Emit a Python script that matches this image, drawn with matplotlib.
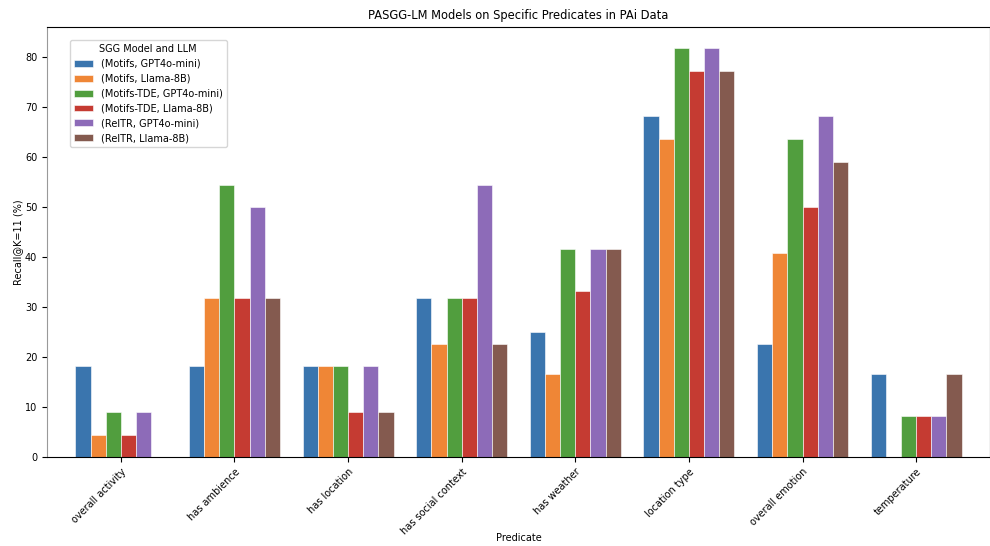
import numpy as np
import matplotlib.pyplot as plt

predicates = ['overall activity', 'has ambience', 'has location', 'has social context',
              'has weather', 'location type', 'overall emotion', 'temperature']

motifs_gpt = [18.2, 18.2, 18.2, 31.8, 25.0, 68.2, 22.7, 16.7]
motifs_llama = [4.5, 31.8, 18.2, 22.7, 16.7, 63.6, 40.9, 0.0]
tde_gpt = [9.1, 54.5, 18.2, 31.8, 41.7, 81.8, 63.6, 8.3]
tde_llama = [4.5, 31.8, 9.1, 31.8, 33.3, 77.3, 50.0, 8.3]
reltr_gpt = [9.1, 50.0, 18.2, 54.5, 41.7, 81.8, 68.2, 8.3]
reltr_llama = [0.0, 31.8, 9.1, 22.7, 41.7, 77.3, 59.1, 16.7]

series = [motifs_gpt, motifs_llama, tde_gpt, tde_llama, reltr_gpt, reltr_llama]
labels = ['(Motifs, GPT4o-mini)', '(Motifs, Llama-8B)', '(Motifs-TDE, GPT4o-mini)',
          '(Motifs-TDE, Llama-8B)', '(RelTR, GPT4o-mini)', '(RelTR, Llama-8B)']
cols = ['#3a75ae', '#ef8636', '#519e3e', '#c53b32', '#8d6bb8', '#845a4f']

fs = 7
fig = plt.figure(figsize=(9.9, 5.46), dpi=100)
ax = fig.add_axes([47/990, 1-457/546, 943/990, 430/546])

x = np.arange(len(predicates))
w = 0.8/len(series)
for i, (vals, lab, c) in enumerate(zip(series, labels, cols)):
    ax.bar(x - 0.4 + w*(i+0.5), vals, w, color=c, label=lab, edgecolor='white', linewidth=0.4)

ax.set_xlim(-0.65, 7.65)
ax.set_ylim(0, 86)
ax.set_xticks(x)
ax.set_xticklabels(predicates, rotation=45, ha='right', rotation_mode='anchor', fontsize=fs)
ax.tick_params(axis='y', labelsize=fs)
ax.set_xlabel('Predicate', fontsize=fs)
ax.xaxis.set_label_coords(0.5, -0.177)
ax.set_ylabel('Recall@K=11 (%)', fontsize=fs, labelpad=1.5)
ax.set_title('PASGG-LM Models on Specific Predicates in PAi Data', fontsize=8.3)
ax.legend(title='SGG Model and LLM', fontsize=fs, title_fontsize=fs,
          loc='upper left', bbox_to_anchor=(0.019, 0.981))
ax.spines['left'].set_color('#999999')

fig.savefig('out.png', dpi=100)
